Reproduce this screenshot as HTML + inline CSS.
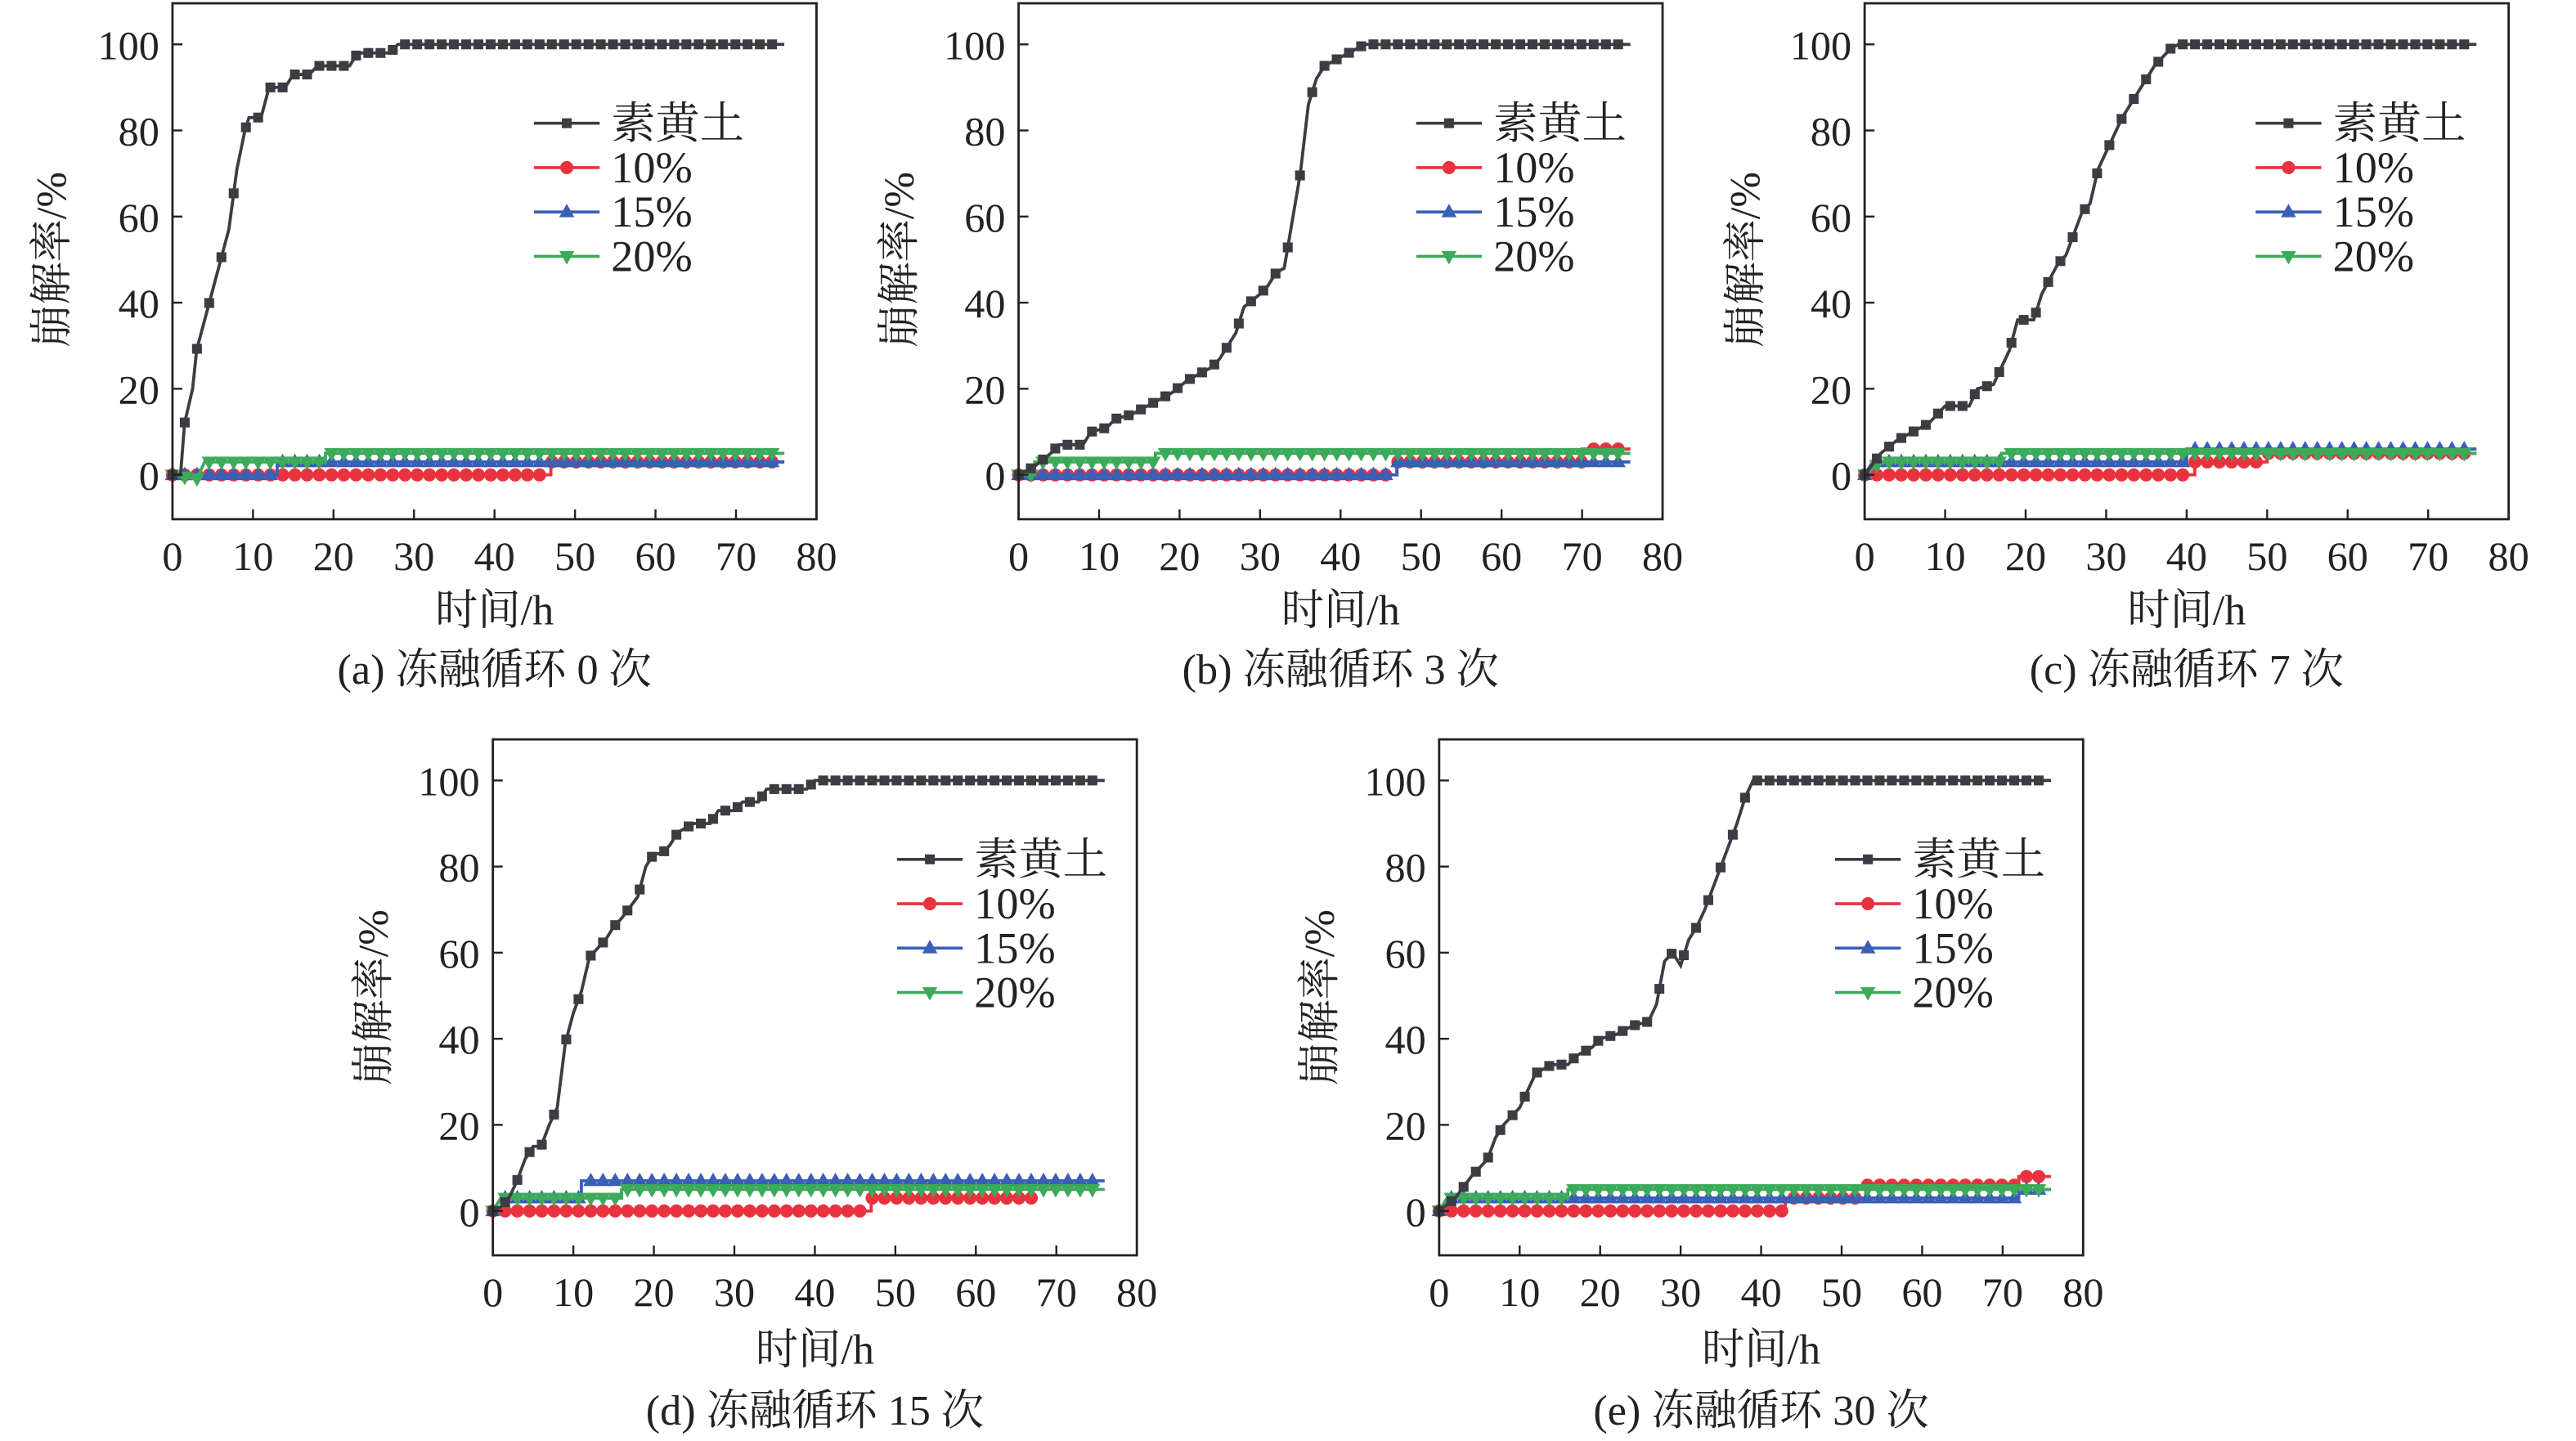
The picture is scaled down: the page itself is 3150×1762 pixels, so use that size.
<!DOCTYPE html>
<html><head><meta charset="utf-8"><style>
html,body{margin:0;padding:0;background:#fff;}
svg{display:block;}
text{font-family:"Liberation Serif","Noto Serif CJK SC",serif;fill:#222;}
</style></head><body>
<svg id="s" width="3150" height="1762" viewBox="0 0 1568 877" preserveAspectRatio="none" xmlns="http://www.w3.org/2000/svg">
<g id="plots"></g>
<g font-size="25">
<text x="40" y="158" font-size="26" text-anchor="middle" transform="rotate(-90 40 158)">崩解率/%</text>
<text x="556" y="158" font-size="26" text-anchor="middle" transform="rotate(-90 556 158)">崩解率/%</text>
<text x="1071" y="158" font-size="26" text-anchor="middle" transform="rotate(-90 1071 158)">崩解率/%</text>
<text x="236" y="607" font-size="26" text-anchor="middle" transform="rotate(-90 236 607)">崩解率/%</text>
<text x="812" y="607" font-size="26" text-anchor="middle" transform="rotate(-90 812 607)">崩解率/%</text>
<text x="301" y="380" font-size="26" text-anchor="middle">时间/h</text>
<text x="816" y="380" font-size="26" text-anchor="middle">时间/h</text>
<text x="1331" y="380" font-size="26" text-anchor="middle">时间/h</text>
<text x="496" y="830" font-size="26" text-anchor="middle">时间/h</text>
<text x="1072" y="830" font-size="26" text-anchor="middle">时间/h</text>
<text x="301" y="416" font-size="26" text-anchor="middle">(a) 冻融循环 0 次</text>
<text x="816" y="416" font-size="26" text-anchor="middle">(b) 冻融循环 3 次</text>
<text x="1331" y="416" font-size="26" text-anchor="middle">(c) 冻融循环 7 次</text>
<text x="496" y="867" font-size="26" text-anchor="middle">(d) 冻融循环 15 次</text>
<text x="1072" y="867" font-size="26" text-anchor="middle">(e) 冻融循环 30 次</text>
</g>
<g id="labels" font-size="25"></g>
</svg>
<script>
var NS="http://www.w3.org/2000/svg";
var C={k:"#3c3c42",r:"#e8333f",b:"#3a5fb5",g:"#3daa5a"};
var panels=[
{L:105,T:2,legX:325,k:[[0,0],[1,0],[1.5,12],[2.5,20],[3,29],[4,36],[5,43],[6,50],[7,57],[7.5,64],[8,71],[9,80],[9.5,83],[11,83],[12,90],[14,90],[15,93],[17,93],[18,95],[22,95],[23,98],[27,98],[28,100],[76,100]],
 r:[[0,0],[47,0],[47,3],[76,3]],b:[[0,0],[13,0],[13,3],[76,3]],g:[[0,0],[3,-1],[4,3],[19,3],[19,5],[76,5]]},
{L:620,T:2,legX:862,k:[[0,0],[2,2],[4,5],[5,7],[8,7],[9,10],[11,11],[12,13],[14,14],[15,15],[17,17],[19,19],[21,22],[24,25],[25,27],[26,30],[27,33],[28,39],[30,42],[31,44],[32,47],[33,48],[34,59],[35,70],[36,86],[37,92],[38,95],[40,97],[41,98],[42,99],[43,100],[76,100]],
 r:[[0,0],[47,0],[47,3],[70,3],[70,6],[76,6]],b:[[0,0],[47,0],[47,3],[76,3]],g:[[0,0],[2,0],[2,3],[17,3],[17,5],[76,5]]},
{L:1135,T:2,legX:1373,k:[[0,0],[2,5],[4,8],[6,10],[8,12],[10,16],[13,16],[14,20],[16,21],[17,25],[18,29],[19,36],[21,36],[22,42],[24,49],[25,51],[27,61],[28,63],[29,71],[30,75],[31,79],[32,83],[33,86],[34,89],[35,92],[36,95],[37,97],[38,99],[39,100],[76,100]],
 r:[[0,0],[41,0],[41,3],[50,3],[50,5],[76,5]],b:[[0,0],[1,3],[40,3],[40,6],[76,6]],g:[[0,0],[2,3],[17,3],[17,5],[76,5]]},
{L:300,T:450,legX:546,k:[[0,0],[1,1],[2,3],[3,7],[4,12],[5,15],[6,15],[7,20],[8,24],[9,39],[10,46],[11,51],[12,59],[13,61],[14,63],[15,66],[16,68],[18,73],[19,80],[20,83],[21,83],[22,85],[23,88],[25,90],[27,90],[28,93],[30,93],[31,95],[33,95],[34,98],[39,98],[40,100],[76,100]],
 r:[[0,0],[47,0],[47,3],[67,3]],b:[[0,0],[1,3],[11,3],[11,7],[76,7]],g:[[0,0],[1,3],[16,3],[16,5],[76,5]]},
{L:876,T:450,legX:1117,k:[[0,0],[2,3],[4,8],[6,12],[7,17],[8,20],[10,24],[11,28],[12,32],[14,34],[16,34],[17,36],[19,38],[20,40],[22,41],[23,42],[24,43],[26,44],[27,48],[28,58],[29,60],[30,57],[31,63],[32,66],[33,70],[34,75],[35,80],[36,85],[37,90],[38,96],[39,100],[76,100]],
 r:[[0,0],[43,0],[43,3],[53,3],[53,6],[72,6],[72,8],[76,8]],b:[[0,0],[1,3],[72,3],[72,5],[76,5]],g:[[0,0],[1,3],[16,3],[16,5],[76,5]]}
];
var plots=document.getElementById("plots");
function el(t,a,p){var e=document.createElementNS(NS,t);for(var k in a)e.setAttribute(k,a[k]);(p||plots).appendChild(e);return e;}
function interp(d,x){for(var i=0;i<d.length-1;i++){if(x>=d[i][0]&&x<=d[i+1][0]){var a=d[i],b=d[i+1];if(b[0]==a[0])return b[1];return a[1]+(b[1]-a[1])*(x-a[0])/(b[0]-a[0]);}}return null;}
function mk(type,x,y,col,g){
 if(type=="k")el("rect",{x:x-3,y:y-3,width:6,height:6,fill:col},g);
 else if(type=="r")el("circle",{cx:x,cy:y,r:4,fill:col},g);
 else if(type=="b")el("path",{d:"M"+x+","+(y-5)+"L"+(x+4.6)+","+(y+3.2)+"L"+(x-4.6)+","+(y+3.2)+"Z",fill:col},g);
 else el("path",{d:"M"+x+","+(y+5)+"L"+(x+4.6)+","+(y-3.2)+"L"+(x-4.6)+","+(y-3.2)+"Z",fill:col},g);
}
panels.forEach(function(p){
 var L=p.L,R=L+392,T=p.T,B=T+314,y100=T+25,y0=T+287;
 var sx=function(v){return L+v*392/80;},sy=function(v){return y0-v*(y0-y100)/100;};
 var g=el("g",{});
 ["r","b","g","k"].forEach(function(s){
  var d=p[s];var pts=d.map(function(q){return sx(q[0]).toFixed(2)+","+sy(q[1]).toFixed(2);}).join(" ");
  el("polyline",{points:pts,fill:"none",stroke:C[s],"stroke-width":1.9},g);
  var xmax=d[d.length-1][0];
  for(var x=0;x<=xmax+0.01;x+=1.52){var v=interp(d,x);if(v!==null)mk(s,sx(x),sy(v),C[s],g);}
 });
 el("rect",{x:L,y:T,width:392,height:314,fill:"none",stroke:"#222","stroke-width":1.4},g);
 var lab=document.getElementById("labels");
 for(var i=0;i<=8;i++){var x=sx(i*10);if(i>0&&i<8)el("line",{x1:x,y1:B,x2:x,y2:B-6,stroke:"#222","stroke-width":1.2},g);
  var t=el("text",{x:x,y:B+31,"text-anchor":"middle"},lab);t.textContent=String(i*10);}
 for(var j=0;j<=5;j++){var y=sy(j*20);el("line",{x1:L,y1:y,x2:L+6,y2:y,stroke:"#222","stroke-width":1.2},g);
  var t2=el("text",{x:L-8,y:y+9,"text-anchor":"end"},lab);t2.textContent=String(j*20);}
 var names={k:"素黄土",r:"10%",b:"15%",g:"20%"};
 ["k","r","b","g"].forEach(function(s,i){var ly=T+73+i*27;
  el("line",{x1:p.legX,y1:ly,x2:p.legX+40,y2:ly,stroke:C[s],"stroke-width":1.8},g);mk(s,p.legX+20,ly,C[s],g);
  var t=el("text",{x:p.legX+47,y:ly+9,"font-size":27},lab);t.textContent=names[s];});
});
</script>
</body></html>
